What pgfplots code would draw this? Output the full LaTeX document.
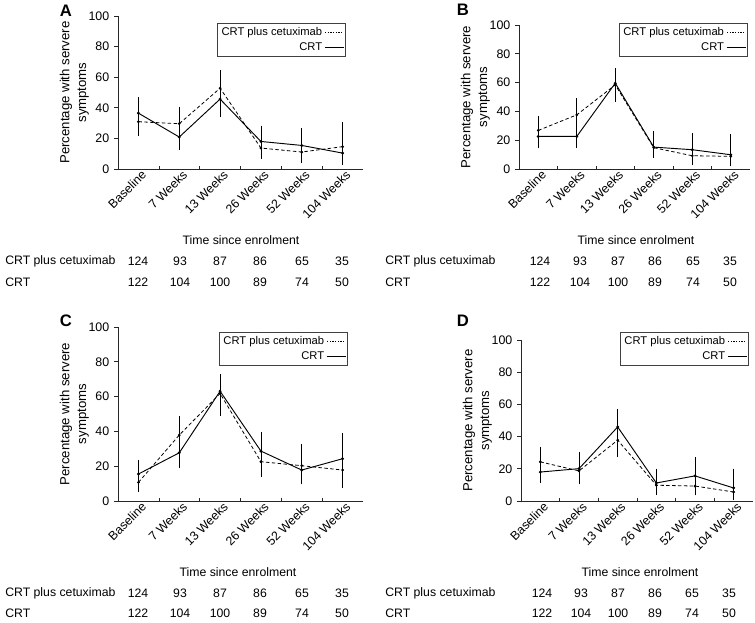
\documentclass[border=0pt]{standalone}
\usepackage{pgfplots}
\usepackage{pgfplotstable}
\pgfplotsset{compat=1.18}
\usepackage{fontspec}
\setmainfont{Liberation Sans}
\newcommand{\rowfont}{\fontsize{9.2}{11}\selectfont}
\newcommand{\tickfont}{\fontsize{9.3}{11}\selectfont}
\newcommand{\labfont}{\fontsize{9.9}{12.5}\selectfont}
\newcommand{\legfont}{\fontsize{8.4}{10}\selectfont}

% columns: x y ep em  (ep/em = distance to upper/lower end of error bar)
\pgfplotstableread{
x y ep em
0 30.9 8.9 7.9
1 29.6 9.7 9.6
2 52.8 10.9 10.8
3 13.7 9.1 5.9
4 11.1 10.2 6.1
5 14.6 15.0 8.6
}\Acet
\pgfplotstableread{
x y ep em
0 36.5 9.2 8.7
1 20.9 7.1 7.2
2 45.7 10.0 10.3
3 18.0 9.2 9.0
4 15.4 10.3 8.4
5 10.4 11.3 6.4
}\Acrt
\pgfplotstableread{
x y ep em
0 26.8 8.5 7.8
1 37.6 10.4 9.6
2 58.4 9.6 10.4
3 14.8 10.2 6.0
4 9.2 6.8 5.0
5 8.8 13.2 5.8
}\Bcet
\pgfplotstableread{
x y ep em
0 22.6 7.4 7.1
1 22.6 7.4 6.9
2 59.6 9.2 9.6
3 15.2 8.8 6.2
4 13.4 10.4 7.4
5 9.9 13.1 6.9
}\Bcrt
\pgfplotstableread{
x y ep em
0 10.7 6.3 4.4
1 37.9 10.1 9.9
2 61.8 8.2 11.8
3 22.6 9.4 7.7
4 20.3 11.4 9.8
5 17.8 12.2 9.2
}\Ccet
\pgfplotstableread{
x y ep em
0 15.5 7.1 6.5
1 27.7 8.3 8.0
2 63.1 8.8 9.1
3 28.7 10.1 9.7
4 17.8 10.2 6.8
5 24.3 13.6 11.3
}\Ccrt
\pgfplotstableread{
x y ep em
0 24.3 8.3 7.3
1 18.7 10.8 7.3
2 37.8 10.2 9.4
3 9.8 7.2 4.8
4 9.3 7.7 4.7
5 5.6 6.4 3.7
}\Dcet
\pgfplotstableread{
x y ep em
0 18.0 8.0 5.8
1 20.1 7.9 7.1
2 46.0 10.0 10.0
3 11.2 7.9 5.7
4 15.6 10.4 7.6
5 8.1 11.0 4.6
}\Dcrt

\pgfplotsset{
  panel/.style={
    scale only axis, clip=false,
    axis lines=left,
    axis line style={-, line width=0.6pt, black!85},
    xmin=-0.5, xmax=5.5, ymin=0, ymax=100,
    ytick={0,20,...,100},
    xtick={0,...,5},
    xticklabels={Baseline,7 Weeks,13 Weeks,26 Weeks,52 Weeks,104 Weeks},
    minor xtick={0.5,1.5,2.5,3.5,4.5},
    major x tick style={draw=none},
    minor x tick style={black!85, line width=0.5pt},
    y tick style={black!85, line width=0.5pt},
    xtick align=inside, ytick align=outside,
    major tick length=3pt, minor tick length=2.5pt,
    tick label style={font=\tickfont, black},
    /pgf/number format/assume math mode=true,
    xticklabel style={xshift=5pt, yshift=-2pt, rotate=45, anchor=east, inner sep=1pt},
    ylabel={Percentage with servere\\symptoms},
    ylabel style={align=center, font=\labfont},
    ylabel shift=-7pt,
    legend plot pos=right,
    legend cell align=right,
    legend style={anchor=north east, draw=black!75, line width=0.5pt,
      font=\legfont, inner sep=1.2pt, row sep=0.5pt,
      nodes={inner sep=1.8pt},
      /tikz/every even column/.append style={column sep=2pt}},
  },
  cetleg/.style={legend image code/.code={\draw[black, line width=0.5pt, dash pattern=on 1pt off 1pt] (0pt,0pt) -- (14pt,0pt);}},
  crtleg/.style={legend image code/.code={\draw[black, line width=0.7pt] (0pt,0pt) -- (14pt,0pt);}},
  cet/.style={black, line width=0.6pt, dash pattern=on 2.6pt off 1.8pt,
    mark=*, mark size=0.7pt, mark options={solid},
    error bars/.cd, y dir=both, y explicit,
    error bar style={line width=0.4pt, solid},
    error mark options={mark size=1.3pt, line width=0.4pt, solid},
    /pgfplots/.cd},
  crt/.style={black, line width=0.7pt, solid,
    mark=*, mark size=0.7pt,
    error bars/.cd, y dir=both, y explicit,
    error bar style={line width=0.4pt},
    error mark options={mark size=1.3pt, line width=0.4pt},
    /pgfplots/.cd},
}

\begin{document}
\begin{tikzpicture}
\begin{scope}[x=0.75pt,y=-0.75pt]
\path[use as bounding box] (0,0) rectangle (755,622);
\end{scope}

% ---- A ----
\begin{axis}[panel, at={(88.5pt,-126.75pt)}, anchor=south west,
  width=183.75pt, height=114.75pt,
  legend style={at={(0.931,0.954)}}]
\addplot[cetleg, cet] table[x=x, y=y, y error plus=ep, y error minus=em] {\Acet};
\addlegendentry{CRT plus cetuximab}
\addplot[crtleg, crt] table[x=x, y=y, y error plus=ep, y error minus=em] {\Acrt};
\addlegendentry{CRT}
\end{axis}

% ---- B ----
\begin{axis}[panel, at={(389.25pt,-126.75pt)}, anchor=south west,
  width=173.25pt, height=108pt,
  legend style={at={(0.991,1.014)}}]
\addplot[cetleg, cet] table[x=x, y=y, y error plus=ep, y error minus=em] {\Bcet};
\addlegendentry{CRT plus cetuximab}
\addplot[crtleg, crt] table[x=x, y=y, y error plus=ep, y error minus=em] {\Bcrt};
\addlegendentry{CRT}
\end{axis}

% ---- C ----
\begin{axis}[panel, at={(88.5pt,-375.75pt)}, anchor=south west,
  width=183.75pt, height=130.5pt,
  legend style={at={(0.939,0.971)}}]
\addplot[cetleg, cet] table[x=x, y=y, y error plus=ep, y error minus=em] {\Ccet};
\addlegendentry{CRT plus cetuximab}
\addplot[crtleg, crt] table[x=x, y=y, y error plus=ep, y error minus=em] {\Ccrt};
\addlegendentry{CRT}
\end{axis}

% ---- D ----
\begin{axis}[panel, at={(390.75pt,-375.75pt)}, anchor=south west,
  width=174pt, height=120.75pt,
  legend style={at={(0.983,1.05)}}]
\addplot[cetleg, cet] table[x=x, y=y, y error plus=ep, y error minus=em] {\Dcet};
\addlegendentry{CRT plus cetuximab}
\addplot[crtleg, crt] table[x=x, y=y, y error plus=ep, y error minus=em] {\Dcrt};
\addlegendentry{CRT}
\end{axis}

\begin{scope}[x=0.75pt,y=-0.75pt, every node/.style={font=\rowfont, inner sep=0pt}]
% panel letters
\node[font=\bfseries\fontsize{12.5}{14}\selectfont] at (66,11) {A};
\node[font=\bfseries\fontsize{12.5}{14}\selectfont] at (463,10) {B};
\node[font=\bfseries\fontsize{12.5}{14}\selectfont] at (66,321) {C};
\node[font=\bfseries\fontsize{12.5}{14}\selectfont] at (463,321) {D};
% x labels
\node at (241,240) {Time since enrolment};
\node at (636,240) {Time since enrolment};
\node at (238,572) {Time since enrolment};
\node at (640,572) {Time since enrolment};
% numbers at risk, A
\node[anchor=west] at (5,261) {CRT plus cetuximab};
\node[anchor=west] at (5,282) {CRT};
\foreach \xx/\a/\b in {138/124/122,180/93/104,220/87/100,260/86/89,302/65/74,342/35/50}{
  \node at (\xx,261) {\a}; \node at (\xx,282) {\b};}
% B
\node[anchor=west] at (385,261) {CRT plus cetuximab};
\node[anchor=west] at (385,282) {CRT};
\foreach \xx/\a/\b in {540/124/122,580/93/104,618/87/100,655/86/89,693/65/74,730/35/50}{
  \node at (\xx,261) {\a}; \node at (\xx,282) {\b};}
% C
\node[anchor=west] at (5,593) {CRT plus cetuximab};
\node[anchor=west] at (5,613) {CRT};
\foreach \xx/\a/\b in {138/124/122,180/93/104,220/87/100,260/86/89,302/65/74,342/35/50}{
  \node at (\xx,593) {\a}; \node at (\xx,613) {\b};}
% D
\node[anchor=west] at (385,593) {CRT plus cetuximab};
\node[anchor=west] at (385,613) {CRT};
\foreach \xx/\a/\b in {542/124/122,581/93/104,618/87/100,655/86/89,692/65/74,729/35/50}{
  \node at (\xx,593) {\a}; \node at (\xx,613) {\b};}
\end{scope}
\end{tikzpicture}
\end{document}
